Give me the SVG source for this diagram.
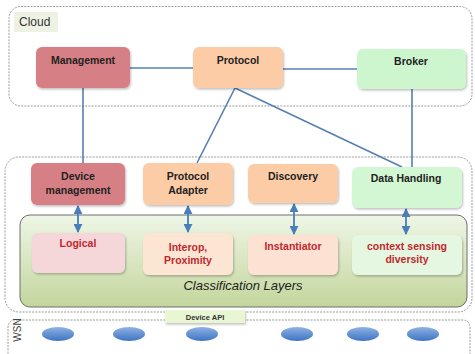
<svg xmlns="http://www.w3.org/2000/svg" width="475" height="354" viewBox="0 0 475 354">
  <defs>
    <filter id="sh" x="-10%" y="-10%" width="130%" height="140%">
      <feDropShadow dx="1" dy="1.5" stdDeviation="1.2" flood-color="#000" flood-opacity="0.25"/>
    </filter>
    <linearGradient id="gClass" x1="0" y1="0" x2="0" y2="1">
      <stop offset="0" stop-color="#eef6e6"/>
      <stop offset="1" stop-color="#c3d69c"/>
    </linearGradient>
    <linearGradient id="gNode" x1="0" y1="0" x2="0" y2="1">
      <stop offset="0" stop-color="#8fb2e4"/>
      <stop offset="1" stop-color="#3f74c2"/>
    </linearGradient>
    <marker id="ah" viewBox="0 0 10 10" refX="9" refY="5" markerWidth="5" markerHeight="5" orient="auto-start-reverse">
      <path d="M0,0 L10,5 L0,10 z" fill="#4a7ebb"/>
    </marker>
    <style>
      .lbl{font-family:"Liberation Sans",Arial,sans-serif;font-weight:bold;font-size:10.5px;fill:#222;text-anchor:middle}
      .red{font-family:"Liberation Sans",Arial,sans-serif;font-weight:bold;font-size:10.5px;fill:#c0282f;text-anchor:middle}
      .box{filter:url(#sh)}
      .mgmt{fill:#d67f84}
      .prot{fill:#fbcca6}
      .green{fill:#cdf6cf}
      .dash{fill:none;stroke:#9a9a9a;stroke-width:1;stroke-dasharray:2 1.2}
      .conn{stroke:#5680b0;stroke-width:1.6;fill:none}
      .dbl{stroke:#4a7ebb;stroke-width:1.8;fill:none;marker-start:url(#ah);marker-end:url(#ah)}
    </style>
  </defs>

  <rect width="475" height="354" fill="#ffffff"/>

  <!-- containers -->
  <g id="cloud">
    <rect class="dash" x="9" y="6.5" width="463" height="99.5" rx="12"/>
    <rect x="14" y="12" width="44" height="20" fill="#eef2e4"/>
    <text x="19" y="26" font-family="Liberation Sans,Arial,sans-serif" font-size="12" fill="#333">Cloud</text>
  </g>
  <g id="gateway">
    <rect class="dash" x="5" y="157" width="467" height="155" rx="14"/>
  </g>
  <g id="classification">
    <rect x="20" y="215" width="447" height="92" rx="10" fill="url(#gClass)" stroke="#6e6e6e" stroke-width="1"/>
    <text x="243" y="290" text-anchor="middle" font-family="Liberation Sans,Arial,sans-serif" font-style="italic" font-size="13" fill="#222">Classification Layers</text>
  </g>
  <g id="wsn">
    <path class="dash" d="M8,360 L8,328 Q8,320 16,320 L462,320 Q470,320 470,328 L470,360"/>
    <text transform="translate(21,330) rotate(-90)" text-anchor="middle" font-family="Liberation Sans,Arial,sans-serif" font-size="10" fill="#444">WSN</text>
  </g>

  <!-- connectors -->
  <g id="connectors">
    <line class="conn" x1="130" y1="68" x2="193" y2="68"/>
    <line class="conn" x1="283" y1="69" x2="357" y2="69"/>
    <line class="conn" x1="83" y1="88" x2="83" y2="163"/>
    <line class="conn" x1="412" y1="89" x2="412" y2="167"/>
    <line class="conn" x1="235" y1="88" x2="197" y2="163"/>
    <line class="conn" x1="235" y1="88" x2="402" y2="167"/>
    <line class="dbl" x1="78" y1="206" x2="78" y2="232"/>
    <line class="dbl" x1="188" y1="206" x2="188" y2="232"/>
    <line class="dbl" x1="294" y1="204" x2="294" y2="234"/>
    <line class="dbl" x1="406" y1="209" x2="406" y2="234"/>
  </g>

  <!-- cloud nodes -->
  <g id="management">
    <rect class="box mgmt" x="36" y="47" width="94" height="41" rx="6"/>
    <text class="lbl" x="83" y="64" font-size="11">Management</text>
  </g>
  <g id="protocol">
    <rect class="box prot" x="193" y="47" width="90" height="41" rx="6"/>
    <text class="lbl" x="238" y="64" font-size="11">Protocol</text>
  </g>
  <g id="broker">
    <rect class="box green" x="357" y="49" width="109" height="40" rx="6"/>
    <text class="lbl" x="411" y="65" font-size="11">Broker</text>
  </g>

  <!-- gateway nodes -->
  <g id="device-management">
    <rect class="box mgmt" x="31" y="163" width="94" height="42" rx="6"/>
    <text class="lbl" x="78" y="180">Device</text>
    <text class="lbl" x="78" y="194">management</text>
  </g>
  <g id="protocol-adapter">
    <rect class="box prot" x="143" y="163" width="90" height="42" rx="6"/>
    <text class="lbl" x="188" y="180">Protocol</text>
    <text class="lbl" x="188" y="194">Adapter</text>
  </g>
  <g id="discovery">
    <rect class="box prot" x="248" y="164" width="90" height="39" rx="6"/>
    <text class="lbl" x="293" y="180">Discovery</text>
  </g>
  <g id="data-handling">
    <rect class="box" x="352" y="167" width="110" height="41" rx="6" fill="#d3f7d3"/>
    <text class="lbl" x="406" y="182">Data Handling</text>
  </g>

  <!-- classification nodes -->
  <g id="logical">
    <rect class="box" x="32" y="233" width="93" height="40" rx="6" fill="#f5d6d9"/>
    <text class="red" x="78" y="247">Logical</text>
  </g>
  <g id="interop">
    <rect class="box" x="143" y="233" width="90" height="42" rx="6" fill="#fde5d4"/>
    <text class="red" x="188" y="251">Interop,</text>
    <text class="red" x="188" y="264">Proximity</text>
  </g>
  <g id="instantiator">
    <rect class="box" x="248" y="235" width="90" height="40" rx="6" fill="#fde2d4"/>
    <text class="red" x="293" y="250">Instantiator</text>
  </g>
  <g id="context">
    <rect class="box" x="352" y="235" width="110" height="40" rx="6" fill="#e5f7e0"/>
    <text class="red" x="407" y="250">context sensing</text>
    <text class="red" x="407" y="263">diversity</text>
  </g>

  <!-- device API -->
  <g id="device-api">
    <rect class="box" x="165" y="310" width="80" height="13" fill="#e8f6d4"/>
    <text x="205" y="319.5" text-anchor="middle" font-family="Liberation Sans,Arial,sans-serif" font-weight="bold" font-size="7.5" fill="#333">Device API</text>
  </g>

  <!-- sensor nodes -->
  <g id="sensors" fill="url(#gNode)">
    <ellipse cx="58" cy="334" rx="16" ry="7"/>
    <ellipse cx="129" cy="334" rx="16" ry="7"/>
    <ellipse cx="202" cy="334" rx="16" ry="7"/>
    <ellipse cx="297" cy="334" rx="16" ry="7"/>
    <ellipse cx="363" cy="334" rx="16" ry="7"/>
    <ellipse cx="423" cy="334" rx="16" ry="7"/>
  </g>
</svg>
